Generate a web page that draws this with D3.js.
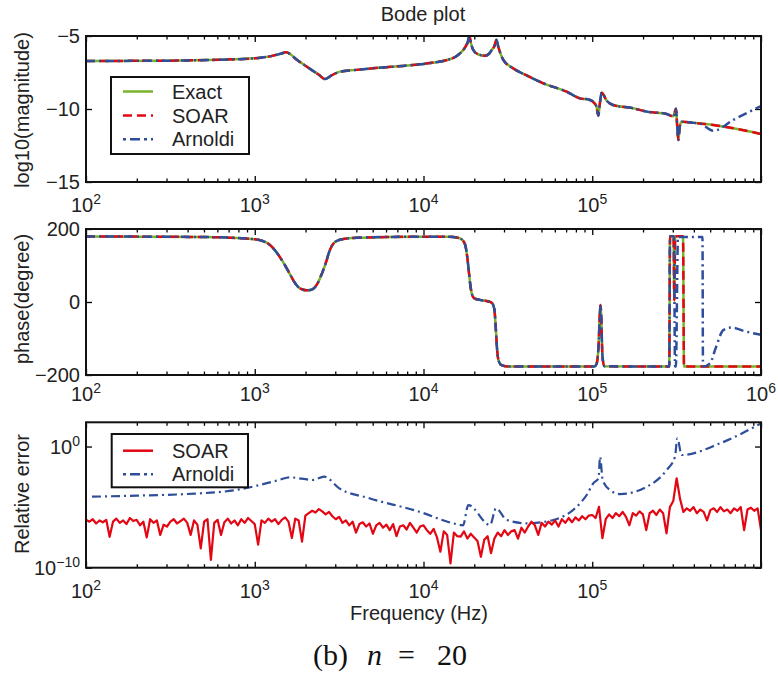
<!DOCTYPE html>
<html><head><meta charset="utf-8">
<script src="https://cdn.jsdelivr.net/npm/d3@7"></script>
<style>body{margin:0;background:#fff}</style>
</head><body>
<svg id="c" width="778" height="681"></svg>
<script>
// ---------------- DATA ----------------
const seriesNames = ["Exact", "SOAR", "Arnoldi"];
const xMajorTicks = [1e2, 1e3, 1e4, 1e5, 1e6];
const magTicks = [-5, -10, -15];
const phaseTicks = [200, 0, -200];
const errTicks = [1e0, 1e-10];

// Panel 1: log10(magnitude) (Exact == SOAR)
const magFreq = [100,300,600,1000,1250,1420,1530,1800,2100,2400,2608,2850,3200,4000,5020,7000,9530,11500,13800,15500,16450,17700,18300,18690,19100,19730,21000,23140,24500,25360,26400,27080,27700,28400,29720,33920,40000,51300,70000,84600,97000,103000,106000,108600,111000,113700,121800,132700,175000,210200,276000,302200,313600,318000,323600,330000,338800,400000,521600,685500,1000000];
const magExact = [-6.71,-6.69,-6.63,-6.53,-6.38,-6.22,-6.12,-6.68,-7.21,-7.66,-7.95,-7.70,-7.44,-7.32,-7.21,-7.08,-6.94,-6.82,-6.64,-6.42,-6.19,-5.75,-5.40,-4.98,-5.50,-5.96,-6.25,-6.35,-6.20,-5.96,-5.65,-5.25,-5.70,-6.10,-6.64,-7.21,-7.65,-8.24,-8.80,-9.27,-9.38,-9.60,-9.85,-10.45,-9.60,-8.88,-9.43,-9.73,-9.95,-10.18,-10.34,-10.50,-9.98,-11.00,-12.12,-11.20,-10.87,-10.95,-11.10,-11.32,-11.71];
// Arnoldi departs from the exact curve above ~4.3e5 Hz
const magArnoldiTailFreq = [435000, 521600, 685000, 1000000];
const magArnoldiTail = [-11.0, -11.49, -10.75, -9.80];

// Panel 2: phase (degree)
const phaseFreq = [100,500,1000,1100,1200,1300,1400,1500,1600,1700,1800,1900,2050,2200,2350,2450,2550,2650,2750,2850,3000,3300,4000,6000,10000,14000,16000,17000,17700,18200,18500,18900,19400,20000,22000,24000,25500,26300,26800,27300,27900,29000,32000,103000,106000,109000,111000,112000,113000,115000,118000,286000,289000,303000,306400,310000,345000,349800,1000000];
const phaseExact = [179.5,178,172,168,160,145,125,103,80,58,42,35,32,35,50,68,88,110,135,152,165,172,176,178,179,179,176,170,155,120,90,50,20,10,5,2,-3,-20,-70,-130,-162,-173,-177,-177,-170,-120,-30,-8,-40,-150,-176,-177,180,180,5,180,180,-177,-177];
const phaseArnoldiTailFreq = [305000,309300,313000,322200,450000,453100,498600,540000,597800,670600,800000,1000000];
const phaseArnoldiTail = [180,-177,-177,178,178,-177,-168,-125,-77,-70,-80,-90];

// Panel 3: relative error, log10 values
const errArnFreq = [108.5,200,392,774,1065,1400,1602,1900,2205,2583,3170,4775,9446,15020,17150,18430,24780,26890,31100,40890,58780,84600,92700,101400,109000,111200,115300,127400,146000,210200,276100,309300,319200,338800,571500,1000000];
const errArnLog10 = [-4.14,-4.05,-3.92,-3.59,-3.18,-2.75,-2.54,-2.65,-2.76,-2.49,-3.45,-4.27,-5.38,-6.34,-6.50,-4.83,-6.48,-5.10,-6.06,-6.34,-6.06,-4.69,-4.0,-3.04,-2.6,-0.84,-2.76,-3.59,-3.92,-3.32,-1.94,-0.84,0.68,-0.70,0.26,1.91];
// SOAR error sampled on a logarithmic grid from 1e2 to 1e6 Hz (201 samples)
const errSoarLog10 = [
-6.05,-6.2,-6.0,-6.35,-6.1,-6.25,-6.05,-7.45,-6.2,-5.95,
-6.3,-6.1,-6.4,-5.9,-6.15,-6.05,-6.5,-6.2,-7.5,-6.0,
-6.3,-6.1,-7.3,-6.45,-6.6,-6.2,-6.0,-6.35,-6.15,-5.95,
-6.3,-7.3,-6.1,-6.45,-8.4,-6.2,-6.0,-9.36,-6.3,-6.05,
-7.3,-6.25,-5.95,-6.35,-6.1,-6.5,-6.0,-6.3,-5.9,-6.15,
-6.4,-8.1,-6.1,-6.3,-5.95,-6.2,-6.0,-6.4,-6.05,-5.85,
-6.2,-7.55,-5.95,-6.1,-7.85,-5.7,-5.5,-5.3,-5.45,-5.16,
-5.35,-5.6,-5.4,-5.75,-6.0,-5.8,-6.3,-6.1,-6.5,-6.2,
-7.1,-6.4,-6.25,-6.6,-6.35,-7.2,-6.5,-6.3,-6.7,-6.45,
-6.9,-6.4,-7.4,-6.6,-6.5,-6.85,-6.3,-6.7,-7.1,-6.6,
-6.5,-6.9,-7.2,-6.8,-7.5,-8.68,-7.0,-7.3,-9.64,-7.1,
-7.4,-7.44,-7.0,-7.6,-7.2,-7.5,-7.8,-9.1,-7.7,-7.4,
-8.8,-7.6,-7.1,-7.4,-6.9,-7.3,-7.0,-6.9,-7.6,-6.7,
-7.1,-6.6,-6.2,-6.5,-7.3,-6.3,-6.6,-6.2,-6.45,-6.1,
-6.6,-6.0,-6.3,-5.9,-6.25,-5.85,-6.1,-5.75,-6.0,-5.7,
-5.65,-5.9,-4.97,-7.57,-6.0,-5.6,-5.9,-5.5,-5.75,-5.4,
-5.8,-6.5,-5.5,-5.7,-5.35,-5.6,-6.9,-5.5,-5.3,-5.65,
-5.2,-5.5,-7.16,-5.0,-4.5,-2.62,-4.3,-5.4,-5.1,-5.3,
-5.0,-5.5,-5.2,-5.4,-6.1,-5.25,-5.1,-5.4,-5.0,-5.35,
-5.2,-5.5,-5.1,-5.3,-5.0,-6.9,-5.2,-5.05,-5.3,-5.1,
-6.9];
const soarGridStartExp = 2, soarGridEndExp = 6;

// ---------------- STYLE ----------------
const GREEN = "#78b42a", RED = "#e30613", BLUE = "#2e4d9b";
const FONT = "'Liberation Sans', Arial, Helvetica, sans-serif";
const LW = 2.5;
const DASH_SOAR = "9,5";
const DASH_ARN = "9,4,2,4";

const svg = d3.select("#c").style("font-family", FONT);
const L = 86, R = 761;
const x = d3.scaleLog().domain([1e2, 1e6]).range([L, R]);
const P = [{top: 36, bottom: 182}, {top: 229, bottom: 375}, {top: 422.3, bottom: 567.7}];

const yMag = d3.scaleLinear().domain([-15, -5]).range([P[0].bottom, P[0].top]);
const yPh = d3.scaleLinear().domain([-200, 200]).range([P[1].bottom, P[1].top]);
const yErr = d3.scaleLog().domain([1e-10, 1e2]).range([P[2].bottom, P[2].top]);

const zip = (a, b) => a.map((v, i) => [v, b[i]]);
const magEx = zip(magFreq, magExact);
const magArn = magEx.filter(d => d[0] < magArnoldiTailFreq[0]).concat(zip(magArnoldiTailFreq, magArnoldiTail));
const phEx = zip(phaseFreq, phaseExact);
const phArn = phEx.filter(d => d[0] < phaseArnoldiTailFreq[0]).concat(zip(phaseArnoldiTailFreq, phaseArnoldiTail));
const errArn = zip(errArnFreq, errArnLog10.map(v => Math.pow(10, v)));
const nS = errSoarLog10.length;
const errSoar = errSoarLog10.map((v, i) => [Math.pow(10, soarGridStartExp + (soarGridEndExp - soarGridStartExp) * i / (nS - 1)), Math.pow(10, v)]);

const defs = svg.append("defs");
P.forEach((p, i) => {
  defs.append("clipPath").attr("id", "clip" + i).append("rect")
    .attr("x", L).attr("y", p.top).attr("width", R - L).attr("height", p.bottom - p.top);
});

function drawAxes(p, y, yTickVals, xLabelVals, xLabelBaseline, yLabelFn) {
  const g = svg.append("g");
  const minors = x.ticks().filter(t => !xMajorTicks.includes(t));
  const mk = (axis, tr) => {
    const a = g.append("g").attr("transform", tr).call(axis);
    a.select(".domain").remove();
    a.selectAll("line").attr("stroke", "#000").attr("stroke-width", 1.3);
  };
  mk(d3.axisBottom(x).tickValues(xMajorTicks).tickSize(-6).tickFormat(""), `translate(0,${p.bottom})`);
  mk(d3.axisBottom(x).tickValues(minors).tickSize(-3.5).tickFormat(""), `translate(0,${p.bottom})`);
  mk(d3.axisTop(x).tickValues(xMajorTicks).tickSize(-6).tickFormat(""), `translate(0,${p.top})`);
  mk(d3.axisTop(x).tickValues(minors).tickSize(-3.5).tickFormat(""), `translate(0,${p.top})`);
  mk(d3.axisLeft(y).tickValues(yTickVals).tickSize(-6).tickFormat(""), `translate(${L},0)`);
  mk(d3.axisRight(y).tickValues(yTickVals).tickSize(-6).tickFormat(""), `translate(${R},0)`);
  xLabelVals.forEach(v => {
    const t = g.append("text").attr("x", x(v)).attr("y", xLabelBaseline)
      .attr("text-anchor", "middle").attr("font-size", 20).attr("fill", "#222");
    t.append("tspan").text("10");
    t.append("tspan").attr("dy", -8).attr("font-size", 14).text(Math.round(Math.log10(v)));
  });
  yTickVals.forEach(v => {
    const t = g.append("text").attr("x", 80).attr("y", y(v) + 7)
      .attr("text-anchor", "end").attr("font-size", 20).attr("fill", "#222");
    yLabelFn(t, v);
  });
  return g;
}

function frame(p) {
  svg.append("rect").attr("x", L).attr("y", p.top).attr("width", R - L).attr("height", p.bottom - p.top)
    .attr("fill", "none").attr("stroke", "#111").attr("stroke-width", 2);
}

function drawLine(i, data, y, color, dash, curve, w) {
  const line = d3.line().x(d => x(d[0])).y(d => y(d[1])).curve(curve || d3.curveMonotoneX);
  svg.append("path").datum(data).attr("clip-path", `url(#clip${i})`)
    .attr("d", line).attr("fill", "none").attr("stroke", color).attr("stroke-width", w || LW)
    .attr("stroke-dasharray", dash || null).attr("stroke-linejoin", "round");
}

const minus = s => String(s).replace("-", "\u2212");

// Panel 1
drawAxes(P[0], yMag, magTicks, [1e2, 1e3, 1e4, 1e5], 212, (t, v) => t.text(minus(v)));
drawLine(0, magEx, yMag, GREEN);
drawLine(0, magEx, yMag, RED, DASH_SOAR);
drawLine(0, magArn, yMag, BLUE, DASH_ARN);
frame(P[0]);

// Panel 2
drawAxes(P[1], yPh, phaseTicks, xMajorTicks, 401, (t, v) => t.text(minus(v)));
drawLine(1, phEx, yPh, GREEN);
drawLine(1, phEx, yPh, RED, DASH_SOAR);
drawLine(1, phArn, yPh, BLUE, DASH_ARN);
frame(P[1]);

// Panel 3
drawAxes(P[2], yErr, errTicks, [1e2, 1e3, 1e4, 1e5], 598, (t, v) => {
  t.append("tspan").text("10");
  t.append("tspan").attr("dy", -8).attr("font-size", 14).text(minus(Math.round(Math.log10(v))));
});
drawLine(2, errArn, yErr, BLUE, DASH_ARN, null, 2.2);
drawLine(2, errSoar, yErr, RED, null, d3.curveLinear, 2.2);
frame(P[2]);

// Titles & labels
svg.append("text").attr("x", 423).attr("y", 21).attr("text-anchor", "middle").attr("font-size", 20).attr("fill", "#222").text("Bode plot");
const ylab = (txt, cy) => svg.append("text").attr("transform", `translate(29,${cy}) rotate(-90)`)
  .attr("text-anchor", "middle").attr("font-size", 20).attr("fill", "#222").text(txt);
ylab("log10(magnitude)", 110);
ylab("phase(degree)", 299);
ylab("Relative error", 494);
svg.append("text").attr("x", 419).attr("y", 620).attr("text-anchor", "middle").attr("font-size", 20).attr("fill", "#222").text("Frequency (Hz)");

// Caption
const cap = svg.append("g").attr("font-family", "'Liberation Serif', 'DejaVu Serif', serif").attr("font-size", 30).attr("fill", "#111");
cap.append("text").attr("x", 313).attr("y", 665).text("(b)");
cap.append("text").attr("x", 367).attr("y", 665).attr("font-style", "italic").text("n");
cap.append("text").attr("x", 398).attr("y", 665).text("=");
cap.append("text").attr("x", 437).attr("y", 665).text("20");

// Legends
function legend(box, entries) {
  const g = svg.append("g");
  g.append("rect").attr("x", box.x).attr("y", box.y).attr("width", box.w).attr("height", box.h)
    .attr("fill", "#fff").attr("stroke", "#111").attr("stroke-width", 2);
  entries.forEach(e => {
    g.append("line").attr("x1", 123).attr("x2", 153).attr("y1", e.y).attr("y2", e.y)
      .attr("stroke", e.color).attr("stroke-width", LW).attr("stroke-dasharray", e.dash || null);
    g.append("text").attr("x", 172).attr("y", e.y + 7).attr("font-size", 20).attr("fill", "#222").text(e.name);
  });
}
legend({x: 111, y: 77, w: 138, h: 77}, [
  {name: seriesNames[0], color: GREEN, y: 91.5},
  {name: seriesNames[1], color: RED, dash: DASH_SOAR, y: 115.5},
  {name: seriesNames[2], color: BLUE, dash: "3,4,10,4", y: 139.3}
]);
legend({x: 111.7, y: 434, w: 136.3, h: 53.3}, [
  {name: seriesNames[1], color: RED, y: 450.7},
  {name: seriesNames[2], color: BLUE, dash: "3,4,10,4", y: 474.3}
]);
</script>
</body></html>
